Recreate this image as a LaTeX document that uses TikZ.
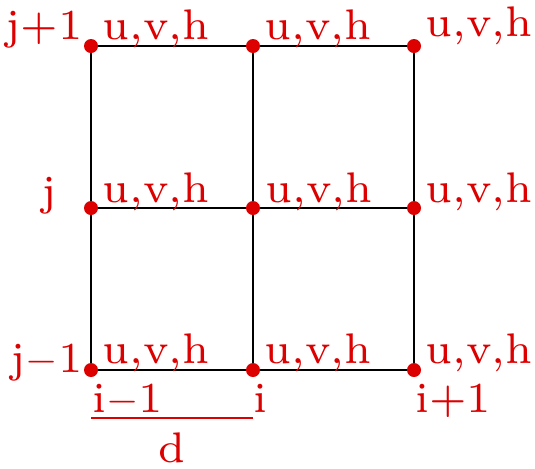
\documentclass[tikz,border=0pt]{standalone}
\usepackage{fontspec}
\setmainfont{lmroman7-regular}[Extension=.otf]
\definecolor{lab}{RGB}{220,0,0}
\tikzset{
  pt/.style={circle,fill=lab,inner sep=0pt,minimum size=7pt},
  grid/.style={draw=black,line width=1pt},
  lbl/.style={text=lab,inner sep=0pt,font=\fontsize{21.4}{24}\selectfont},
}
\begin{document}
\begin{tikzpicture}[x=0.5pt,y=-0.5pt]
\useasboundingbox (0,0) rectangle (535,468);
% grid points
\foreach \c/\x in {a/91,b/253,c/414}{
  \foreach \r/\y in {1/46,2/208,3/370}{
    \coordinate (p\c\r) at (\x,\y);
  }
}
% grid lines
\draw[grid] (pa1) -- (pc1);
\draw[grid] (pa2) -- (pc2);
\draw[grid] (pa3) -- (pc3);
\draw[grid] (pa1) -- (pa3);
\draw[grid] (pb1) -- (pb3);
\draw[grid] (pc1) -- (pc3);
% dots
\foreach \c in {a,b,c}{
  \foreach \r in {1,2,3}{
    \node[pt] (d\c\r) at (p\c\r) {};
  }
}
% u,v,h labels
\node[lbl,anchor=base west] (ua1) at (102,39) {u,v,h};
\node[lbl,anchor=base west] (ub1) at (264,39) {u,v,h};
\node[lbl,anchor=base west] (uc1) at (425,36) {u,v,h};
\node[lbl,anchor=base west] (ua2) at (102,202) {u,v,h};
\node[lbl,anchor=base west] (ub2) at (265,202) {u,v,h};
\node[lbl,anchor=base west] (uc2) at (425,202) {u,v,h};
\node[lbl,anchor=base west] (ua3) at (102,363) {u,v,h};
\node[lbl,anchor=base west] (ub3) at (264,363) {u,v,h};
\node[lbl,anchor=base west] (uc3) at (425,363) {u,v,h};
% j labels
\node[lbl,anchor=base east] (jp) at (83,39) {j+1};
\node[lbl,anchor=base east] (j0) at (57,205) {j};
\node[lbl,anchor=base east] (jm) at (83,372) {j$-$1};
% i labels
\node[lbl,anchor=base west] (im) at (92,412) {i$-$1};
\node[lbl,anchor=base west] (i0) at (253,412) {i};
\node[lbl,anchor=base west] (ip) at (415,412) {i+1};
% spacing d
\coordinate (s1) at (91,418);
\coordinate (s2) at (253,418);
\draw[draw=lab,line width=1pt] (s1) -- (s2);
\node[lbl,anchor=base] (dd) at (172,462) {d};
\end{tikzpicture}
\end{document}
